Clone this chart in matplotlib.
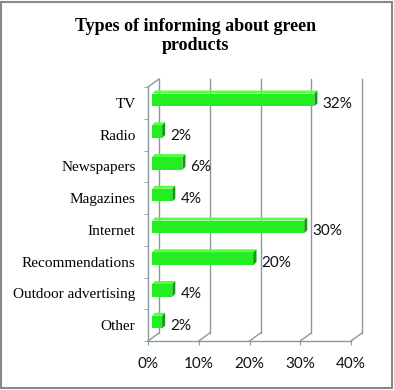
import numpy as np
import matplotlib.pyplot as plt
from matplotlib.patches import Polygon, Rectangle
from matplotlib.transforms import ScaledTranslation, IdentityTransform

# datos del grafico
categorias = ["TV", "Radio", "Newspapers", "Magazines", "Internet",
              "Recommendations", "Outdoor advertising", "Other"]
valores = [32, 2, 6, 4, 30, 20, 4, 2]
ticks_x = [0, 10, 20, 30, 40]
etiquetas_x = ["0%", "10%", "20%", "30%", "40%"]
titulo = "Types of informing about green\nproducts"

# colores
gris = "#8a9a9c"
verde = "#22ee22"
verde_claro = "#55ff44"
verde_oscuro = "#139a13"

DPI = 100
fig = plt.figure(figsize=(3.94, 3.90), dpi=DPI)
ax = fig.add_axes([148/394, 49/390, 203/394, 254/390])

n = len(categorias)
centros = np.arange(n) + 0.5

# desplazamientos "3D" (pixeles)
def desplazar(dx, dy):
    return ax.transData + ScaledTranslation(dx/DPI, dy/DPI, fig.dpi_scale_trans)

fondo = (11, 8)     # plano trasero
frente_barra = (4, 3)   # cara frontal de las barras
prof_barra = (3, 3)     # profundidad de las barras

# barras (cara frontal)
ax.barh(centros, valores, height=0.4, left=0, color=verde, edgecolor="none",
        transform=desplazar(*frente_barra), zorder=3)

ax.set_xlim(0, 40)
ax.set_ylim(n, 0)

# lineas de fondo (plano trasero)
for x in ticks_x:
    ax.plot([x, x], [0, n], color=gris, lw=1, transform=desplazar(*fondo),
            clip_on=False, zorder=1)

# diagonales del suelo y pared izquierda
def diagonal(x, y):
    p = ax.transData.transform((x, y))
    ax.plot([p[0], p[0] + fondo[0]], [p[1], p[1] + fondo[1]], color=gris, lw=1,
            transform=IdentityTransform(), clip_on=False, zorder=1)

for x in ticks_x:
    diagonal(x, n)
diagonal(0, 0)

# caras superior y lateral de las barras
T = ax.transData
for c, v in zip(centros, valores):
    arriba = c - 0.2
    abajo = c + 0.2
    p0 = T.transform((0, arriba)) + frente_barra
    p1 = T.transform((v, arriba)) + frente_barra
    p2 = T.transform((v, abajo)) + frente_barra
    d = np.array(prof_barra)
    sup = Polygon([p0, p1, p1 + d, p0 + d], closed=True, facecolor=verde_claro,
                  edgecolor="none", transform=IdentityTransform(), zorder=3)
    lat = Polygon([p1, p2, p2 + d, p1 + d], closed=True, facecolor=verde_oscuro,
                  edgecolor="none", transform=IdentityTransform(), zorder=3)
    ax.add_patch(sup)
    ax.add_patch(lat)
    ax.annotate(f"{v}%", xy=(v, c), xytext=(12, -1), textcoords="offset pixels",
                ha="left", va="center", fontsize=11, family="Lato",
                color="#111111")

# ejes
for s in ["top", "right"]:
    ax.spines[s].set_visible(False)
for s in ["left", "bottom"]:
    ax.spines[s].set_color(gris)
    ax.spines[s].set_linewidth(1)
ax.set_facecolor("none")

ax.set_yticks(centros)
ax.set_yticklabels(categorias, family="Liberation Serif", fontsize=11)
ax.set_yticks(np.arange(n + 1), minor=True)
ax.tick_params(axis="y", which="major", length=0, pad=9)
ax.tick_params(axis="y", which="minor", length=3, color=gris)

ax.set_xticks(ticks_x)
ax.set_xticklabels(etiquetas_x, family="Lato", fontsize=11, color="#111111")
ax.tick_params(axis="x", length=3, color=gris, pad=8.5)

fig.text(0.497, 0.955, titulo, ha="center", va="top", family="Liberation Serif",
         fontweight="bold", fontsize=13, linespacing=1.15)

# borde del grafico
fig.patches.append(Rectangle((0.003, 0.004), 0.991, 0.99, transform=fig.transFigure,
                             fill=False, edgecolor="#888888", lw=1.5))

fig.savefig("out.png", dpi=DPI)
